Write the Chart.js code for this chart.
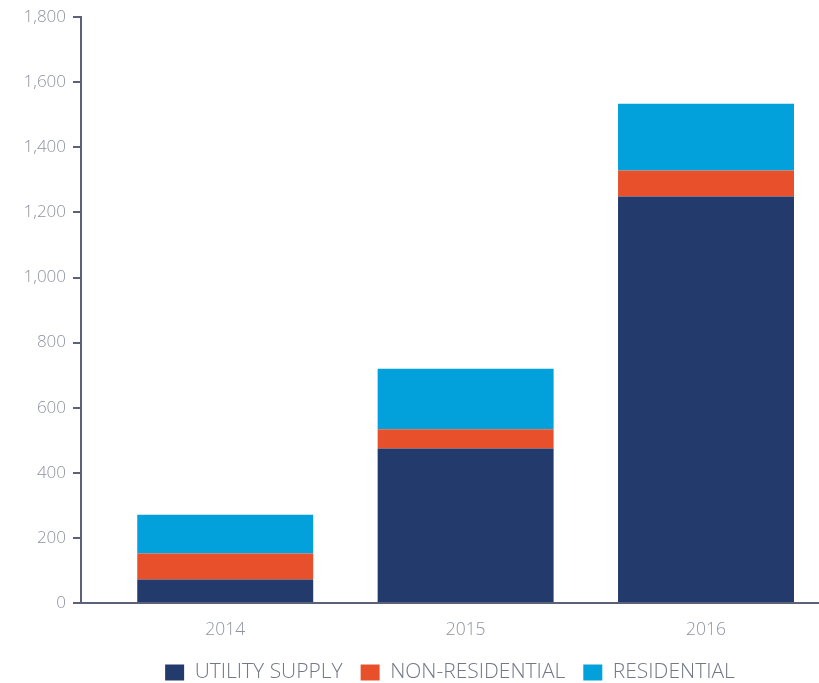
<!DOCTYPE html>
<html>
<head>
<meta charset="utf-8">
<script src="https://cdn.jsdelivr.net/npm/chart.js@4/dist/chart.umd.min.js"></script>
<style>
html,body{margin:0;padding:0;background:#fff;overflow:hidden;}
#wrap{width:819px;height:683px;position:relative;}
</style>
</head>
<body>
<div id="wrap"><canvas id="c"></canvas></div>
<script>
const years = ['2014', '2015', '2016'];
const utilitySupply = [72, 475, 1249];
const nonResidential = [80, 59, 80];
const residential = [119, 186, 205];
const yTicks = [0, 200, 400, 600, 800, 1000, 1200, 1400, 1600, 1800];

const axisColor = '#5b6179';
const tickColor = '#8e93a1';
const fontFam = "'Open Sans', sans-serif";
const toPts = arr => arr.map((v, i) => ({x: i, y: v}));

new Chart(document.getElementById('c'), {
  type: 'bar',
  data: {
    datasets: [
      {label: 'UTILITY SUPPLY', data: toPts(utilitySupply), backgroundColor: '#233a6d'},
      {label: 'NON-RESIDENTIAL', data: toPts(nonResidential), backgroundColor: '#e8502b'},
      {label: 'RESIDENTIAL', data: toPts(residential), backgroundColor: '#03a1db'}
    ]
  },
  options: {
    responsive: true,
    maintainAspectRatio: false,
    animation: false,
    layout: {padding: {top: 9, right: 0, left: 0, bottom: -10}},
    datasets: {bar: {categoryPercentage: 1, barPercentage: 0.732}},
    plugins: {
      tooltip: {enabled: false},
      legend: {
        position: 'bottom',
        fullSize: false,
        labels: {
          boxWidth: 19, boxHeight: 16, color: '#737887',
          font: {family: fontFam, size: 21, weight: 300}, padding: 18
        }
      }
    },
    scales: {
      x: {
        type: 'linear',
        stacked: true,
        offset: false,
        min: -0.6,
        max: 2.47,
        grid: {display: false},
        border: {display: true, color: axisColor, width: 2},
        ticks: {
          stepSize: 1, includeBounds: false, padding: 8.5,
          color: tickColor, font: {family: fontFam, size: 17.5, weight: 300},
          callback: v => (Number.isInteger(v) && years[v] !== undefined) ? years[v] : ''
        },
        afterFit: s => { s.height = 41; }
      },
      y: {
        stacked: true,
        min: 0, max: 1800,
        afterBuildTicks: s => { s.ticks = yTicks.map(v => ({value: v})); },
        afterFit: s => { s.width = 81; },
        grid: {drawOnChartArea: false, drawTicks: true, tickLength: 8, color: axisColor, lineWidth: 2},
        border: {display: true, color: axisColor, width: 2},
        ticks: {
          padding: 7, color: tickColor, font: {family: fontFam, size: 17, weight: 300},
          callback: v => v.toLocaleString('en-US')
        }
      }
    }
  }
});
</script>
</body>
</html>
